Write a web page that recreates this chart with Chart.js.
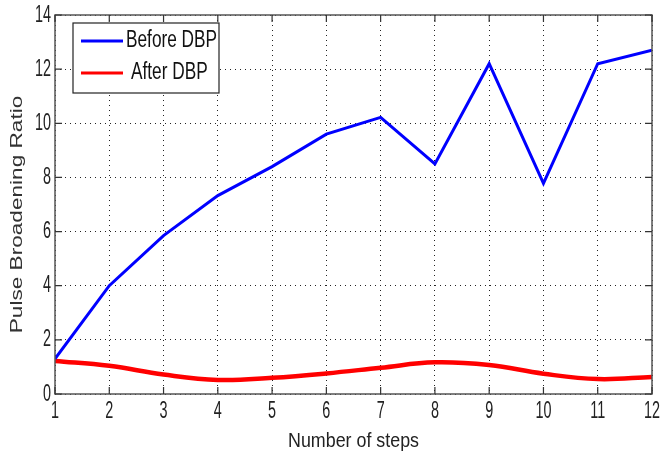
<!DOCTYPE html>
<html>
<head>
<meta charset="utf-8">
<script src="https://cdn.jsdelivr.net/npm/chart.js@4"></script>
<style>
html,body{margin:0;padding:0;background:#fff;}
#wrap{width:662px;height:457px;}
</style>
</head>
<body>
<div id="wrap"><canvas id="c" width="662" height="457"></canvas></div>
<script>
const steps = [1,2,3,4,5,6,7,8,9,10,11,12];
const beforeDBP = [1.3,4.0,5.85,7.33,8.4,9.6,10.22,8.5,12.2,7.78,12.2,12.7];
const afterDBP = [1.22,1.04,0.72,0.52,0.6,0.76,0.97,1.17,1.07,0.75,0.55,0.63];
const yTicks = [0,2,4,6,8,10,12,14];
const seriesLabels = ['Before DBP','After DBP'];
const seriesColors = ['#0000ff','#ff0000'];
const xTitle = 'Number of steps';
const yTitle = 'Pulse Broadening Ratio';

const FONT = '"Liberation Sans", Arial, sans-serif';

function stretchText(ctx, text, x, y, sx, font, align, baseline, rot) {
  ctx.save();
  ctx.translate(x, y);
  if (rot) ctx.rotate(rot);
  ctx.scale(sx, 1);
  ctx.font = font;
  ctx.textAlign = align;
  ctx.textBaseline = baseline;
  ctx.fillText(text, 0, 0);
  ctx.restore();
}

const framePlugin = {
  id: 'frame',
  afterDraw(chart) {
    const ctx = chart.ctx, a = chart.chartArea;
    const xs = chart.scales.x, ys = chart.scales.y;
    ctx.save();
    ctx.strokeStyle = '#555';
    ctx.lineWidth = 1.5;
    ctx.strokeRect(a.left, a.top, a.right - a.left, a.bottom - a.top);
    ctx.strokeStyle = '#333';
    ctx.lineWidth = 1.2;
    ctx.beginPath();
    const tl = 7;
    xs.ticks.forEach(t => {
      const px = xs.getPixelForValue(t.value);
      ctx.moveTo(px, a.bottom); ctx.lineTo(px, a.bottom - tl);
      ctx.moveTo(px, a.top); ctx.lineTo(px, a.top + tl);
    });
    ys.ticks.forEach(t => {
      const py = ys.getPixelForValue(t.value);
      ctx.moveTo(a.left, py); ctx.lineTo(a.left + tl, py);
      ctx.moveTo(a.right, py); ctx.lineTo(a.right - tl, py);
    });
    ctx.stroke();

    // tick labels (narrow MATLAB-like style), positioned by the scales
    ctx.fillStyle = '#222';
    const tickFont = '24px ' + FONT;
    xs.ticks.forEach(t => {
      stretchText(ctx, String(t.value), xs.getPixelForValue(t.value), a.bottom + 17, 0.6, tickFont, 'center', 'middle');
    });
    ys.ticks.forEach(t => {
      stretchText(ctx, String(t.value), a.left - 4, ys.getPixelForValue(t.value), 0.6, tickFont, 'right', 'middle');
    });
    // axis titles
    stretchText(ctx, xTitle, (a.left + a.right) / 2, 441, 0.85, '21px ' + FONT, 'center', 'middle');
    ctx.fillStyle = '#333';
    stretchText(ctx, yTitle, 17, (a.top + a.bottom) / 2 + 10, 1.33, '17px ' + FONT, 'center', 'middle', -Math.PI / 2);

    // legend
    const lx = 73, ly = 23, lw = 146, lh = 70;
    ctx.fillStyle = '#fff';
    ctx.fillRect(lx, ly, lw, lh);
    ctx.strokeStyle = '#222';
    ctx.lineWidth = 1.2;
    ctx.strokeRect(lx, ly, lw, lh);
    const rows = [ly + 18, ly + 50];
    chart.data.datasets.forEach((ds, i) => {
      ctx.strokeStyle = ds.borderColor;
      ctx.lineWidth = 3;
      ctx.beginPath();
      ctx.moveTo(lx + 8, rows[i]); ctx.lineTo(lx + 50, rows[i]);
      ctx.stroke();
      ctx.fillStyle = '#111';
      stretchText(ctx, ds.label, lx + (i === 0 ? 53 : 58), rows[i], 0.75, '23px ' + FONT, 'left', 'middle');
    });
    ctx.restore();
  }
};

new Chart(document.getElementById('c'), {
  type: 'line',
  data: {
    datasets: [
      { label: seriesLabels[0], data: steps.map((s,i)=>({x:s,y:beforeDBP[i]})), borderColor: seriesColors[0], borderWidth: 3, pointRadius: 0, tension: 0 },
      { label: seriesLabels[1], data: steps.map((s,i)=>({x:s,y:afterDBP[i]})), borderColor: seriesColors[1], borderWidth: 4.5, pointRadius: 0, tension: 0.4 }
    ]
  },
  options: {
    responsive: false,
    animation: false,
    devicePixelRatio: 1,
    layout: { padding: { top: 15, right: 10, left: 0, bottom: 0 } },
    plugins: { legend: { display: false }, tooltip: { enabled: false } },
    scales: {
      x: {
        type: 'linear', min: 1, max: 12,
        afterBuildTicks(s) { s.ticks = steps.map(v => ({ value: v })); },
        afterFit(s) { s.height = 63; },
        grid: { color: '#222', lineWidth: 1, drawTicks: false },
        border: { display: false, dash: [1, 4] },
        ticks: { display: false }
      },
      y: {
        min: 0, max: 14,
        afterBuildTicks(s) { s.ticks = yTicks.map(v => ({ value: v })); },
        afterFit(s) { s.width = 55; },
        grid: { color: '#222', lineWidth: 1, drawTicks: false },
        border: { display: false, dash: [1, 4] },
        ticks: { display: false }
      }
    }
  },
  plugins: [framePlugin]
});
</script>
</body>
</html>
